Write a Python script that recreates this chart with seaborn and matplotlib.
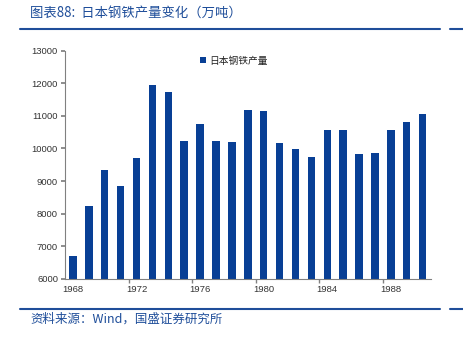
import matplotlib
matplotlib.use("Agg")
import matplotlib.pyplot as plt
import seaborn as sns
import pandas as pd

years = list(range(1968, 1991))
production = [6700, 8230, 9350, 8860, 9700, 11950, 11720, 10230, 10750, 10240, 10210,
              11170, 11140, 10180, 9975, 9730, 10580, 10550, 9840, 9850, 10580, 10800, 11050]
series_name = "日本钢铁产量"
title_text = "图表88:  日本钢铁产量变化（万吨）"
source_text = "资料来源：Wind，国盛证券研究所"
yticks = list(range(6000, 13001, 1000))
xtick_years = [1968, 1972, 1976, 1980, 1984, 1988]

sns.set_theme(style="white")
plt.rcParams['font.family'] = ['Noto Sans CJK SC', 'DejaVu Sans']

df = pd.DataFrame({"year": years, "value": production})

fig = plt.figure(figsize=(4.64, 3.39), dpi=100)
ax = fig.add_axes([0.140, 0.177, 0.788, 0.674])

bar_color = "#083F95"
sns.barplot(data=df, x="year", y="value", color=bar_color, width=0.47,
            ax=ax, saturation=1, label=series_name, linewidth=0, edgecolor=bar_color)

num_font = ['Liberation Sans', 'DejaVu Sans']
ax.set_ylim(6000, 13000)
ax.set_xlim(-0.5, len(years) - 0.5)
ax.set_yticks(yticks)
ax.set_yticklabels([str(v) for v in yticks], fontsize=6.8, color="#333333", family=num_font)
pos = [years.index(y) for y in xtick_years]
ax.set_xticks(pos)
ax.set_xticklabels([str(y) for y in xtick_years], fontsize=6.8, color="#333333", family=num_font)
ax.tick_params(axis="x", which="major", length=0, pad=4)
ax.set_xticks([p - 0.5 for p in pos[1:]], minor=True)
ax.tick_params(axis="x", which="minor", length=3, color="#808080", direction="out", bottom=True)
ax.tick_params(axis="y", length=3, color="#808080", direction="out", left=True, pad=2)
ax.set_xlabel("")
ax.set_ylabel("")
for s in ["top", "right"]:
    ax.spines[s].set_visible(False)
for s in ["left", "bottom"]:
    ax.spines[s].set_color("#808080")
    ax.spines[s].set_linewidth(0.8)

leg = ax.legend(loc="upper left", bbox_to_anchor=(0.36, 0.995), frameon=False,
                fontsize=7, handlelength=0.6, handleheight=0.6, handletextpad=0.3,
                borderaxespad=0)
for t in leg.get_texts():
    t.set_color("#222222")

title_color = "#1F4E9A"
fig.text(30 / 464, 1 - 14 / 339, title_text, fontsize=9.6, color=title_color,
         style="italic", va="center", ha="left")
fig.add_artist(plt.Line2D([20 / 464, 440 / 464], [1 - 29 / 339] * 2, color=title_color, lw=1.5))
fig.add_artist(plt.Line2D([450 / 464, 1.0], [1 - 29 / 339] * 2, color=title_color, lw=1.5))
fig.add_artist(plt.Line2D([20 / 464, 440 / 464], [1 - 309 / 339] * 2, color=title_color, lw=1.5))
fig.add_artist(plt.Line2D([450 / 464, 1.0], [1 - 309 / 339] * 2, color=title_color, lw=1.5))
fig.text(30 / 464, 1 - 319 / 339, source_text, fontsize=9, color=title_color,
         style="italic", va="center", ha="left")

fig.savefig("out.png", dpi=100)
